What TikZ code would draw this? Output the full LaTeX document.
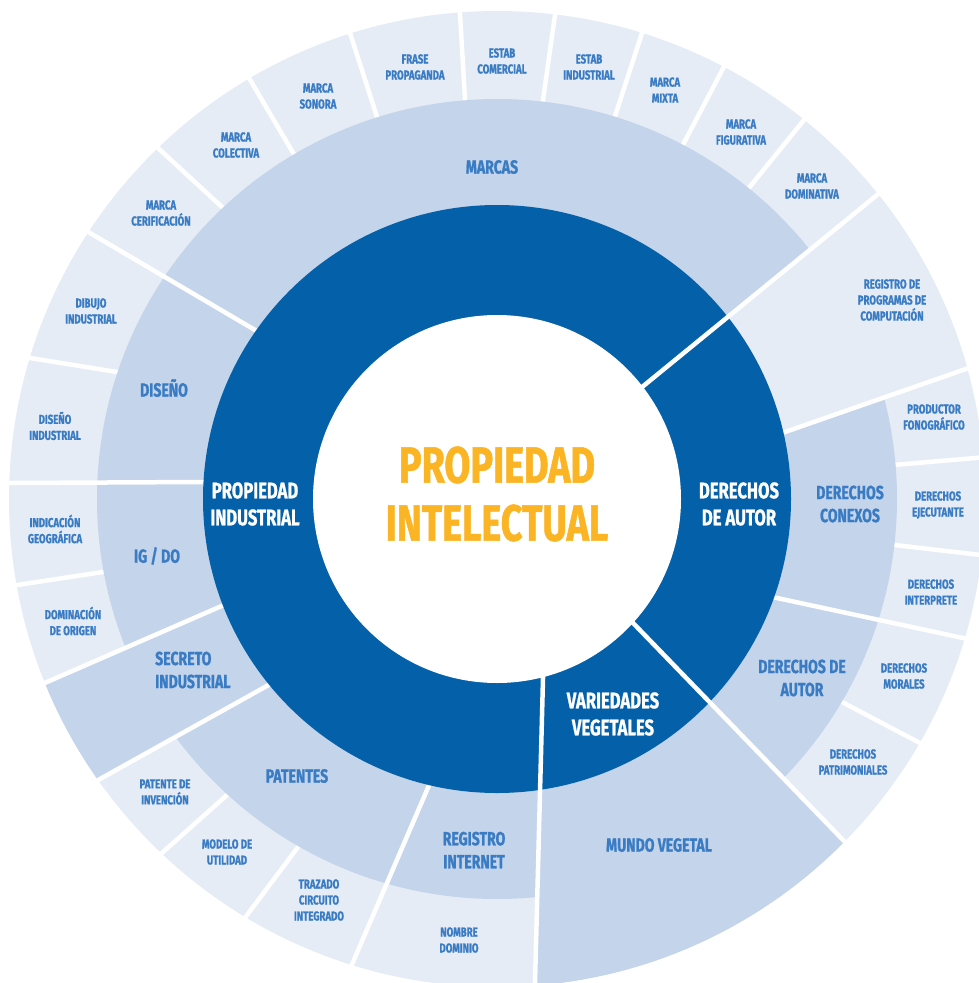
\documentclass[tikz,border=0pt]{standalone}
\usepackage{fontspec}
\newfontfamily\cf{Fira Sans}[FakeStretch=0.74, FakeBold=1]
\usetikzlibrary{calc}
\definecolor{darkc}{RGB}{4,96,168}
\definecolor{midc}{RGB}{196,212,234}
\definecolor{outc}{RGB}{229,236,246}
\definecolor{txtc}{RGB}{58,124,196}
\definecolor{orac}{RGB}{251,180,36}
\begin{document}
\begin{tikzpicture}[x=1pt,y=-1pt,
  sep/.style={white, line width=4.5pt},
  lblouter/.style={text=txtc, align=center, inner sep=0pt, font=\cf\bfseries\fontsize{13}{16}\selectfont},
  lblmid/.style={text=txtc, align=center, inner sep=0pt, font=\cf\bfseries\fontsize{19}{23}\selectfont},
  lbldark/.style={text=white, align=center, inner sep=0pt, font=\cf\bfseries\fontsize{22.5}{27}\selectfont},
  lblcenter/.style={text=orac, align=center, inner sep=0pt, font=\cf\bfseries\fontsize{51}{58}\selectfont}]
\useasboundingbox (0,0) rectangle (978,983);
\coordinate (C) at (497,499);
% boundary lines: dark (full), mid (R1..R3), outer (R2..R3)
\coordinate (d1-a) at (647,383); \coordinate (d1-b) at (877,195);
\coordinate (d2-a) at (635,625); \coordinate (d2-b) at (843,840);
\coordinate (d3-a) at (543,678); \coordinate (d3-b) at (535,983);
\coordinate (m1-a) at (255,330); \coordinate (m1-b) at (90,233);
\coordinate (m2-a) at (202,482); \coordinate (m2-b) at (10,483);
\coordinate (m3-a) at (217,608); \coordinate (m3-b) at (47,682);
\coordinate (m4-a) at (265,687); \coordinate (m4-b) at (100,779);
\coordinate (m5-a) at (427,790); \coordinate (m5-b) at (353,962);
\coordinate (m6-a) at (777,598); \coordinate (m6-b) at (963,638);
\coordinate (m7-a) at (785,432); \coordinate (m7-b) at (963,370);
\coordinate (o1-a) at ($(C)+(-51:400)$); \coordinate (o1-b) at ($(C)+(-51:488)$);
\coordinate (o2-a) at ($(C)+(-62.3:400)$); \coordinate (o2-b) at ($(C)+(-62.3:488)$);
\coordinate (o3-a) at (617,110); \coordinate (o3-b) at (642,33);
\coordinate (o4-a) at (543,100); \coordinate (o4-b) at (555,15);
\coordinate (o5-a) at (465,100); \coordinate (o5-b) at (460,13);
\coordinate (o6-a) at (377,117); \coordinate (o6-b) at (350,33);
\coordinate (o7-a) at ($(C)+(-120.5:400)$); \coordinate (o7-b) at ($(C)+(-120.5:488)$);
\coordinate (o8-a) at (222,207); \coordinate (o8-b) at (158,148);
\coordinate (o9-a) at (117,372); \coordinate (o9-b) at (30,358);
\coordinate (o10-a) at (103,572); \coordinate (o10-b) at (17,585);
\coordinate (o11-a) at (227,795); \coordinate (o11-b) at (163,852);
\coordinate (o12-a) at (298,847); \coordinate (o12-b) at (247,915);
\coordinate (o13-a) at (842,702); \coordinate (o13-b) at (918,742);
\coordinate (o14-a) at ($(C)+(-4.9:400)$); \coordinate (o14-b) at ($(C)+(-4.9:488)$);
\coordinate (o15-a) at ($(C)+(6.6:400)$); \coordinate (o15-b) at ($(C)+(6.6:488)$);
% outer ring
\fill[outc] (C) circle (488);
\foreach \n in {o1,o2,o3,o4,o5,o6,o7,o8,o9,o10,o11,o12,o13,o14,o15}
  {\draw[sep] ($(\n-a)!-1!(\n-b)$) -- ($(\n-a)!2!(\n-b)$);}
% middle ring
\fill[midc] (C) circle (400);
\begin{scope}
  \clip (C) -- (m3-a) -- ($(m3-a)!3!(m3-b)$) -- ($(m4-a)!3!(m4-b)$) -- (m4-a) -- cycle;
  \fill[midc] (C) circle (488);
\end{scope}
\begin{scope}
  \clip (C) -- (d3-a) -- ($(d3-a)!3!(d3-b)$) -- ($(d2-a)!3!(d2-b)$) -- (d2-a) -- cycle;
  \fill[midc] (C) circle (488);
\end{scope}
\begin{scope}
  \clip (C) -- (m7-a) -- ($(m7-a)!3!(m7-b)$) -- ($(d1-a)!3!(d1-b)$) -- (d1-a) -- cycle;
  \fill[outc] (C) circle (488);
\end{scope}
\foreach \n in {m1,m2,m3,m4,m5,m6,m7}
  {\draw[sep] ($(\n-a)!-0.5!(\n-b)$) -- ($(\n-a)!2!(\n-b)$);}
% dark ring
\fill[darkc] (C) circle (294);
\foreach \n in {d1,d2,d3}
  {\draw[sep] ($(\n-a)!-0.3!(\n-b)$) -- ($(\n-a)!2!(\n-b)$);}
% centre
\fill[white] (C) circle (184);
% labels
\node[lblcenter] (centre) at (497,494) {PROPIEDAD\\INTELECTUAL};
\node[lbldark] (pind) at (255,504) {PROPIEDAD\\INDUSTRIAL};
\node[lbldark] (dautor) at (739,504) {DERECHOS\\DE AUTOR};
\node[lbldark] (vveg) at (613,714) {VARIEDADES\\VEGETALES};
\node[lblmid] (marcas) at (492,167) {MARCAS};
\node[lblmid] (diseno) at (164,388) {DISEÑO};
\node[lblmid] (igdo) at (157,556) {IG / DO};
\node[lblmid, anchor=west, align=left] (secreto) at (155,670) {SECRETO\\INDUSTRIAL};
\node[lblmid] (patentes) at (297,776) {PATENTES};
\node[lblmid] (regint) at (474,850) {REGISTRO\\INTERNET};
\node[lblmid] (mundo) at (659,845) {MUNDO VEGETAL};
\node[lblmid] (daut) at (802,678) {DERECHOS DE\\AUTOR};
\node[lblmid] (conexos) at (850,504) {DERECHOS\\CONEXOS};
\node[lblouter] (regprog) at (892,300) {REGISTRO DE\\PROGRAMAS DE\\COMPUTACIÓN};
\node[lblouter] (mdom) at (812,186) {MARCA\\DOMINATIVA};
\node[lblouter] (mfig) at (741,132) {MARCA\\FIGURATIVA};
\node[lblouter] (mmix) at (665,90) {MARCA\\MIXTA};
\node[lblouter] (eind) at (589,67) {ESTAB\\INDUSTRIAL};
\node[lblouter] (ecom) at (502,61) {ESTAB\\COMERCIAL};
\node[lblouter] (frase) at (415,67) {FRASE\\PROPAGANDA};
\node[lblouter] (mson) at (318,96) {MARCA\\SONORA};
\node[lblouter] (mcol) at (236,145) {MARCA\\COLECTIVA};
\node[lblouter] (mcer) at (161,213) {MARCA\\CERIFICACIÓN};
\node[lblouter] (dib) at (91,311) {DIBUJO\\INDUSTRIAL};
\node[lblouter] (disind) at (55,426) {DISEÑO\\INDUSTRIAL};
\node[lblouter] (indic) at (55,529) {INDICACIÓN\\GEOGRÁFICA};
\node[lblouter] (domin) at (73,621) {DOMINACIÓN\\DE ORIGEN};
\node[lblouter] (pinv) at (165,792) {PATENTE DE\\INVENCIÓN};
\node[lblouter] (mutil) at (227,852) {MODELO DE\\UTILIDAD};
\node[lblouter] (traz) at (319,900) {TRAZADO\\CIRCUITO\\INTEGRADO};
\node[lblouter] (ndom) at (459,940) {NOMBRE\\DOMINIO};
\node[lblouter] (dpat) at (853,762) {DERECHOS\\PATRIMONIALES};
\node[lblouter] (dmor) at (904,676) {DERECHOS\\MORALES};
\node[lblouter] (dint) at (931,592) {DERECHOS\\INTERPRETE};
\node[lblouter] (deje) at (938,505) {DERECHOS\\EJECUTANTE};
\node[lblouter] (prod) at (934,417) {PRODUCTOR\\FONOGRÁFICO};
\end{tikzpicture}
\end{document}
